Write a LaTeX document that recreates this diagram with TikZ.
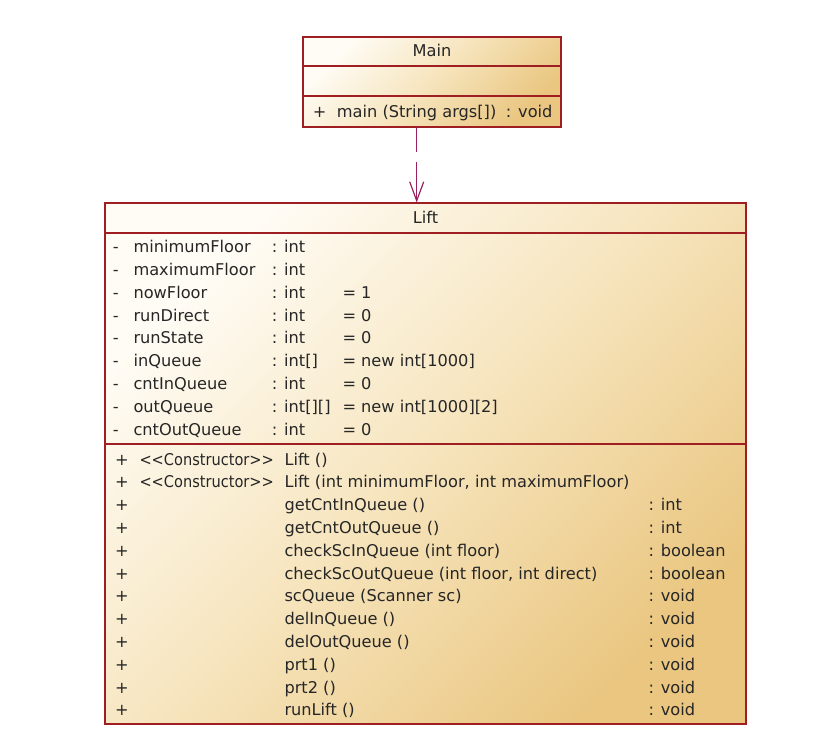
\documentclass[tikz,border=0pt]{standalone}
\usepackage{fontspec}
\usepackage{graphicx}
\setmainfont{DejaVu Sans}
\usetikzlibrary{arrows.meta}
\definecolor{umlborder}{RGB}{158,30,34}
\definecolor{umllight}{RGB}{255,252,245}
\definecolor{umlmid}{RGB}{246,228,188}
\definecolor{umldark}{RGB}{234,198,128}
\definecolor{deparrow}{RGB}{155,32,96}
\begin{document}
\begin{tikzpicture}[x=1pt,y=-1pt,
  classbox/.style={draw=umlborder, line width=2pt, top color=umllight, bottom color=umldark, middle color=umlmid, shading angle=45, inner sep=0pt, outer sep=0pt, anchor=north west},
  sepline/.style={draw=umlborder, line width=2pt},
  txt/.style={anchor=base west, inner sep=0pt, font=\fontsize{16.2}{19}\selectfont, text=black!85},
  ttl/.style={anchor=base, inner sep=0pt, font=\fontsize{16.2}{19}\selectfont, text=black!85},
  dep/.style={draw=deparrow, line width=1.3pt, dash pattern=on 25pt off 10pt on 80pt off 1pt, -{Straight Barb[length=19pt, width=14pt, line width=1.2pt]}}]
\useasboundingbox (0,0) rectangle (838,740);
% Main class
\node[classbox, minimum width=258pt, minimum height=89.5pt] (main) at (303,37) {};
\draw[sepline] (303,65.5) -- (561,65.5);
\draw[sepline] (303,96) -- (561,96);
\node[ttl] (mainname) at (432,56.7) {Main};
\node[txt] (mainvis) at (312.7,117.3) {+};
\node[txt] (mainop) at (336.7,117.3) {main (String args[])};
\node[txt] (mainret) at (505.7,117.3) {: void};
% Lift class
\node[classbox, minimum width=641pt, minimum height=521pt] (lift) at (105,202.5) {};
\draw[sepline] (105,232.5) -- (746,232.5);
\draw[sepline] (105,443.5) -- (746,443.5);
\node[ttl] (liftname) at (425.5,223.3) {Lift};
% attributes
\foreach \i/\n/\t/\v in {1/minimumFloor/int/,2/maximumFloor/int/,3/nowFloor/int/= 1,4/runDirect/int/= 0,5/runState/int/= 0,6/inQueue/{int[]}/{= new int[1000]},7/cntInQueue/int/= 0,8/outQueue/{int[][]}/{= new int[1000][2]},9/cntOutQueue/int/= 0}{
  \pgfmathsetmacro\yy{252.3+22.9*(\i-1)}
  \node[txt] (av\i) at (112.7,\yy) {-};
  \node[txt] (an\i) at (133.3,\yy) {\n};
  \node[txt] (at\i) at (271.7,\yy) {: \t};
  \node[txt] (ai\i) at (342.3,\yy) {\v};
}
% operations
\foreach \i/\s/\n/\r in {1/C/{Lift ()}/,2/C/{Lift (int minimumFloor, int maximumFloor)}/,3//{getCntInQueue ()}/: int,4//{getCntOutQueue ()}/: int,5//{checkScInQueue (int floor)}/: boolean,6//{checkScOutQueue (int floor, int direct)}/: boolean,7//{scQueue (Scanner sc)}/: void,8//{delInQueue ()}/: void,9//{delOutQueue ()}/: void,10//{prt1 ()}/: void,11//{prt2 ()}/: void,12//{runLift ()}/: void}{
  \pgfmathsetmacro\yy{465+22.8*(\i-1)}
  \node[txt] (ov\i) at (115,\yy) {+};
  \node[txt] (os\i) at (139.3,\yy) {\ifx\s\empty\else\scalebox{0.9}[1]{<\kern0pt<Constructor>\kern0pt>}\fi};
  \node[txt] (on\i) at (284.3,\yy) {\n};
  \node[txt] (or\i) at (648.3,\yy) {\r};
}
% dependency
\coordinate (ax) at (416.7,0);
\draw[dep] (main.south -| ax) -- (lift.north -| ax);
\end{tikzpicture}
\end{document}
